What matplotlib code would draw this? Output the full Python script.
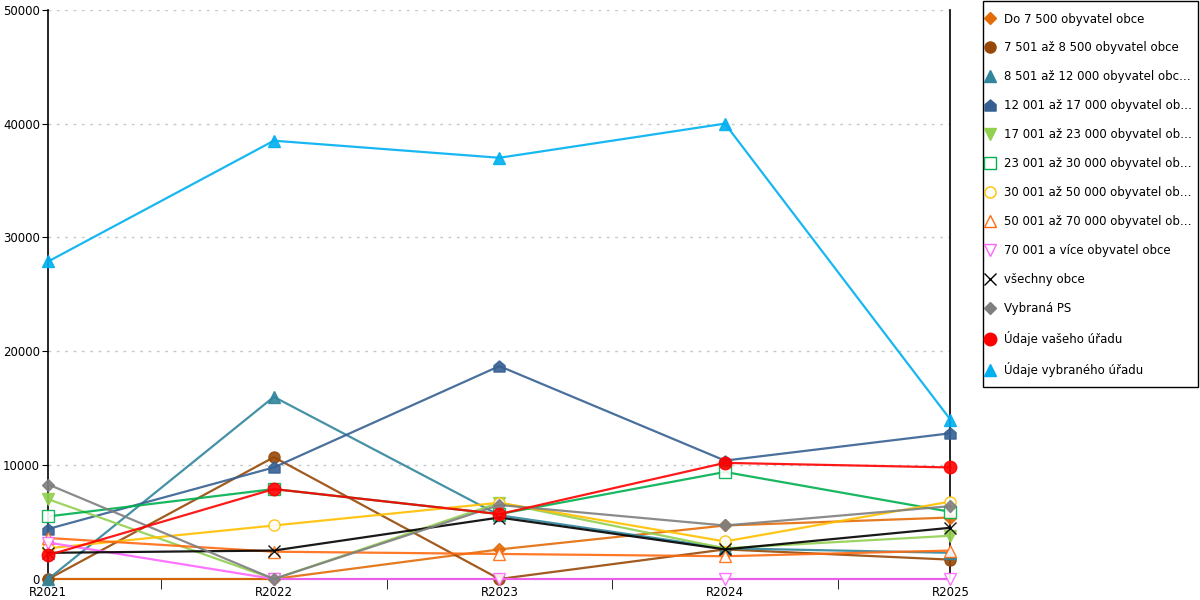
import matplotlib.pyplot as plt
from matplotlib.lines import Line2D
from matplotlib.patches import Rectangle
from matplotlib.path import Path

YEARS = ['R2021', 'R2022', 'R2023', 'R2024', 'R2025']

# values
do_7500 = [0, 0, 2600, 4700, 5400]
s_7501_8500 = [0, 10700, 0, 2600, 1700]
s_8501_12000 = [0, 16000, 5600, 2700, 2300]
s_12001_17000 = [4400, 9800, 18700, 10400, 12800]
s_17001_23000 = [7000, 0, 6700, 2700, 3800]
s_23001_30000 = [5500, 7900, 5700, 9400, 5900]
s_30001_50000 = [2700, 4700, 6700, 3300, 6800]
s_50001_70000 = [3600, 2400, 2200, 2000, 2500]
s_70001 = [3200, 0, 0, 0, 0]
vsechny = [2300, 2500, 5400, 2600, 4500]
vybrana_ps = [8300, 0, 6500, 4700, 6400]
vas_urad = [2100, 7900, 5700, 10200, 9800]
vybrany_urad = [27900, 38500, 37000, 40000, 14000]

LABELS = [
    'Do 7 500 obyvatel obce',
    '7 501 až 8 500 obyvatel obce',
    '8 501 až 12 000 obyvatel obc…',
    '12 001 až 17 000 obyvatel ob…',
    '17 001 až 23 000 obyvatel ob…',
    '23 001 až 30 000 obyvatel ob…',
    '30 001 až 50 000 obyvatel ob…',
    '50 001 až 70 000 obyvatel ob…',
    '70 001 a více obyvatel obce',
    'všechny obce',
    'Vybraná PS',
    'Údaje vašeho úřadu',
    'Údaje vybraného úřadu',
]

SERIES = [do_7500, s_7501_8500, s_8501_12000, s_12001_17000, s_17001_23000,
          s_23001_30000, s_30001_50000, s_50001_70000, s_70001, vsechny,
          vybrana_ps, vas_urad, vybrany_urad]

# little "house" marker (square with a roof)
house = Path([(-1, -1), (1, -1), (1, 0.15), (0, 1), (-1, 0.15), (-1, -1)],
             [Path.MOVETO, Path.LINETO, Path.LINETO, Path.LINETO,
              Path.LINETO, Path.CLOSEPOLY])

# (color, marker, filled, marker size)
STYLES = [
    ('#E36C09', 'D', True, 6),
    ('#974806', 'o', True, 8),
    ('#31859C', '^', True, 8),
    ('#366092', house, True, 8),
    ('#92D050', 'v', True, 8),
    ('#00B050', 's', False, 8),
    ('#FFC000', 'o', False, 8),
    ('#FF6A10', '^', False, 8),
    ('#FF66FF', 'v', False, 8),
    ('#000000', 'x', True, 9),
    ('#7F7F7F', 'D', True, 6),
    ('#FF0000', 'o', True, 9),
    ('#00B0F0', '^', True, 8),
]

plt.rcParams['font.family'] = ['DejaVu Sans']

fig = plt.figure(figsize=(12, 6), dpi=100)
ax = fig.add_axes([0.0403, 0.035, 0.7517, 0.9487])

x = list(range(len(YEARS)))
handles = []
for vals, lab, (col, mk, filled, ms) in zip(SERIES, LABELS, STYLES):
    face = col if filled else 'white'
    ax.plot(x, vals, color=col, linewidth=1.6, alpha=0.9, marker=mk,
            markersize=ms, markerfacecolor=face, markeredgecolor=col,
            markeredgewidth=1.0, clip_on=False, zorder=3)
    handles.append(Line2D([], [], linestyle='none', marker=mk, markersize=ms,
                          color=col, markerfacecolor=face,
                          markeredgecolor=col, markeredgewidth=1.0))

ax.set_xlim(0, 4)
ax.set_ylim(0, 50000)
ax.set_xticks(x)
ax.set_xticklabels(YEARS)
ax.set_xticks([0.5, 1.5, 2.5, 3.5], minor=True)
ax.tick_params(axis='x', which='major', length=0, pad=5, labelsize=8.5)
ax.tick_params(axis='x', which='minor', length=7, direction='out', color='black')
ax.set_yticks([0, 10000, 20000, 30000, 40000, 50000])
ax.tick_params(axis='y', length=4, direction='out', labelsize=8.5, pad=2)

ax.grid(axis='y', color='#C8C8C8', linestyle=(0, (2, 4)), linewidth=1)
ax.spines['top'].set_visible(False)
for s in ['left', 'right', 'bottom']:
    ax.spines[s].set_color('black')
    ax.spines[s].set_linewidth(1.2)

# legend frame drawn separately so the padding can match the reference
fig.patches.append(Rectangle((983 / 1200, 1 - 387 / 600), 215 / 1200, 386 / 600,
                             transform=fig.transFigure, fill=False,
                             edgecolor='black', linewidth=1.0))
fig.legend(handles, LABELS, loc='upper left',
           bbox_to_anchor=(984.5 / 1200, 1 - 12.5 / 600),
           fontsize=8.5, frameon=False, borderpad=0, borderaxespad=0,
           labelspacing=1.35, handletextpad=0.75, handlelength=0.9)

fig.savefig('out.png', dpi=100)
